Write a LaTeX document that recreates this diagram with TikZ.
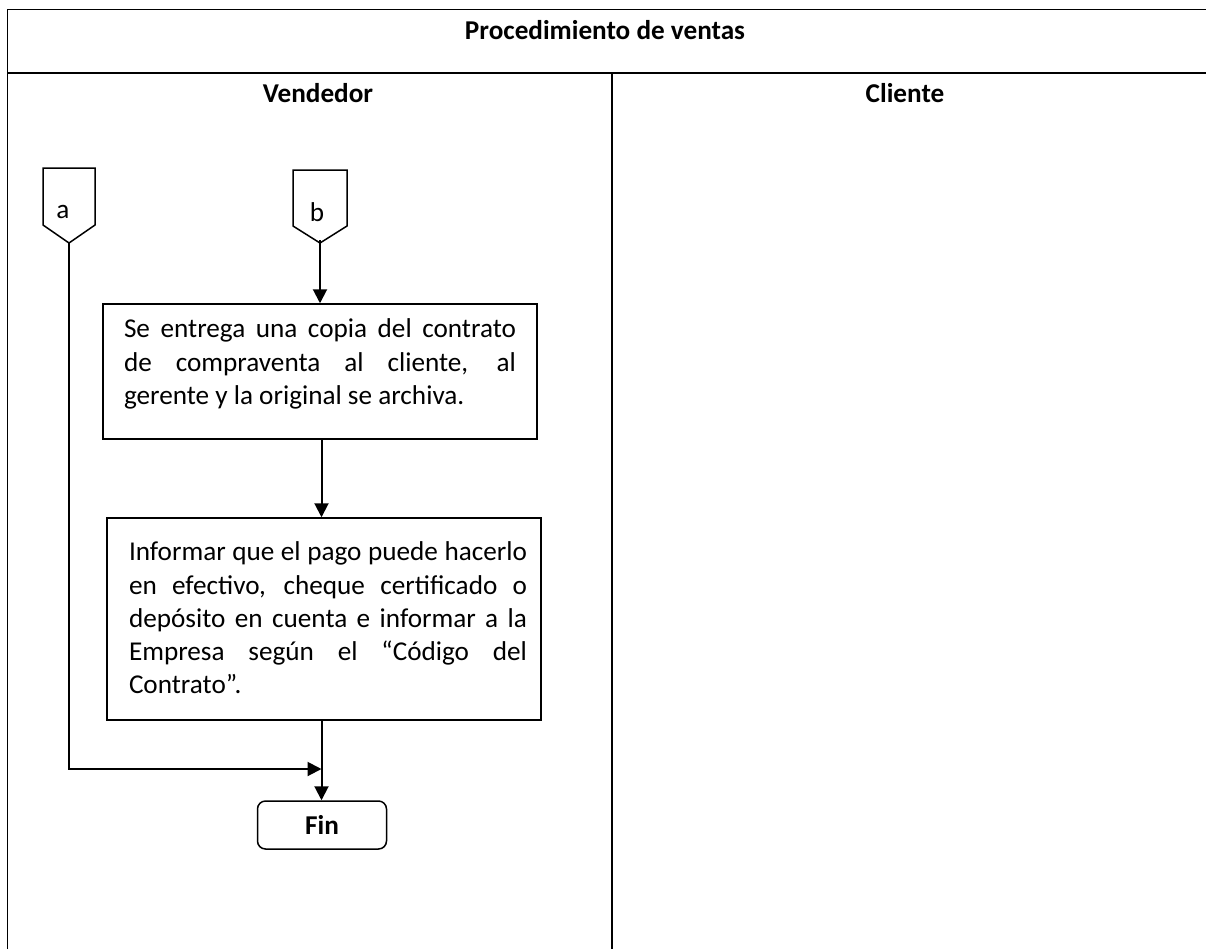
\documentclass[tikz,border=0pt]{standalone}
\usepackage{fontspec}
\setmainfont{Carlito}
\usetikzlibrary{arrows.meta}
\hyphenpenalty=10000
\exhyphenpenalty=10000
\begin{document}
\begin{tikzpicture}[x=0.5pt,y=-0.5pt,
  every node/.style={font=\fontsize{13.6}{16.6}\selectfont, inner sep=0pt},
  grid/.style={line width=0.75pt},
  stepbox/.style={draw, rectangle, line width=0.75pt},
  endbox/.style={draw, rectangle, rounded corners=4pt, line width=0.75pt},
  pgon/.style={draw, line width=0.75pt, line join=miter},
  body/.style={align=justify},
  arr/.style={line width=1pt, -{Triangle[length=7pt,width=7pt]}},
]
\useasboundingbox (0,0) rectangle (1206,949);

% table frame: title row and two lanes
\draw[grid] (7.5,949) -- (7.5,9.5) -- (1206,9.5);
\draw[grid] (7.5,73) -- (1206,73);
\draw[grid] (612,73) -- (612,949);
\node (title) at (605,30) {\textbf{Procedimiento de ventas}};
\node (vend) at (318,93) {\textbf{Vendedor}};
\node (cli) at (905,93) {\textbf{Cliente}};

% off-page connectors a and b
\draw[pgon] (43,168) -- (95,168) -- (95,225) -- (69,243) -- (43,225) -- cycle;
\coordinate (pa) at (69,243);
\node (la) at (63,212) {a};
\draw[pgon] (293,170) -- (347,170) -- (347,226) -- (320,243) -- (293,226) -- cycle;
\coordinate (pb) at (320,240);
\node (lb) at (317,212) {b};

% process steps
\node[stepbox, minimum width=217pt, minimum height=67.5pt] (b1) at (320,371.5) {};
\node[body, text width=196pt] (t1) at (320,364)
  {Se entrega una copia del contrato\linebreak de compraventa al cliente, al\linebreak gerente y la original se archiva.};
\node[stepbox, minimum width=217pt, minimum height=101pt] (b2) at (324,619) {};
\node[body, text width=199pt] (t2) at (328,618)
  {Informar que el pago puede hacerlo\linebreak en efectivo, cheque certificado o\linebreak depósito en cuenta e informar a la\linebreak Empresa según el “Código del\linebreak Contrato”.};
\node[endbox, minimum width=64.5pt, minimum height=24pt] (fin) at (322,825) {\textbf{Fin}};
\coordinate (j) at (321.5,769);

% flow
\draw[arr] (pb) -- (b1.north);
\draw[arr] (j |- b1.south) -- (j |- b2.north);
\draw[arr] (j |- b2.south) -- (j |- fin.north);
\draw[arr] (pa) |- (j);
\end{tikzpicture}
\end{document}
